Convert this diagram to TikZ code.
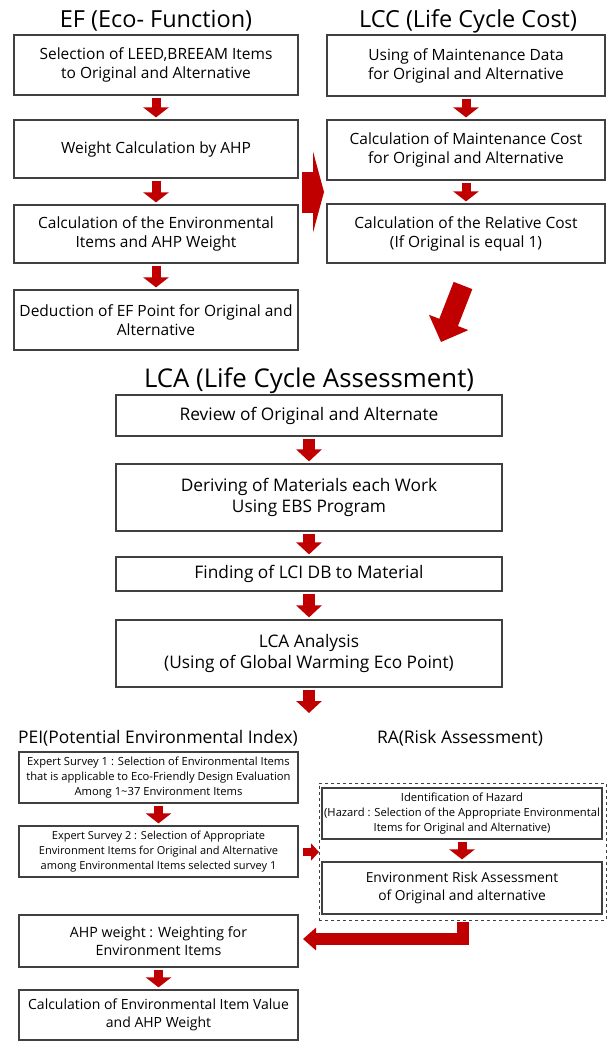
\documentclass[tikz,border=0pt]{standalone}
\usepackage{fontspec}
\setmainfont{Open Sans}
\usetikzlibrary{arrows.meta}
\definecolor{arrred}{RGB}{192,0,0}
\definecolor{boxline}{RGB}{64,64,64}
\tikzset{
  box/.style={draw=boxline, line width=1.2pt, rectangle, inner sep=0pt, align=center},
  efbox/.style={box, minimum width=284pt, font=\fontsize{15.5}{19}\selectfont},
  lccbox/.style={box, minimum width=278pt, font=\fontsize{15.5}{19}\selectfont},
  lcabox/.style={box, minimum width=386pt, font=\fontsize{17.3}{21.5}\selectfont},
  peibox/.style={box, minimum width=279pt},
  rabox/.style={box, minimum width=280pt},
  bigtitle/.style={anchor=base, font=\fontsize{23.5}{28}\selectfont},
  midtitle/.style={anchor=base, font=\fontsize{17.4}{22}\selectfont},
  downarr/.style={line width=9pt, arrred, -{Triangle[width=25pt,length=10pt]}, shorten <=2pt, shorten >=2pt},
  lcaarr/.style={line width=12pt, arrred, -{Triangle[width=25pt,length=12pt]}, shorten <=2pt, shorten >=2pt},
}
\begin{document}
\begin{tikzpicture}[x=1pt,y=-1pt]
\useasboundingbox (0,0) rectangle (607,1042);
% titles
\node[bigtitle] (eft) at (156,27) {EF (Eco- Function)};
\node[bigtitle] (lcct) at (468,27) {LCC (Life Cycle Cost)};
\node[bigtitle, font=\fontsize{25.8}{30}\selectfont] (lcat) at (309,387) {LCA (Life Cycle Assessment)};
\node[midtitle] (peit) at (158,743) {PEI(Potential Environmental Index)};
\node[midtitle] (rat) at (460,743) {RA(Risk Assessment)};
% EF column
\node[efbox, minimum height=60pt] (b1) at (156,65) {Selection of LEED,BREEAM Items\\to Original and Alternative};
\node[efbox, minimum height=58pt] (b2) at (156,149) {Weight Calculation by AHP};
\node[efbox, minimum height=58pt] (b3) at (156,234) {Calculation of the Environmental\\Items and AHP Weight};
\node[efbox, minimum height=60pt] (b4) at (156,320) {Deduction of EF Point for Original and\\Alternative};
% LCC column
\node[lccbox, minimum height=61pt] (c1) at (466,65.5) {Using of Maintenance Data\\for Original and Alternative};
\node[lccbox, minimum height=60pt] (c2) at (466,150) {Calculation of Maintenance Cost\\for Original and Alternative};
\node[lccbox, minimum height=59pt] (c3) at (466,233.5) {Calculation of the Relative Cost\\(If Original is equal 1)};
% LCA column
\node[lcabox, minimum height=41pt] (l1) at (309,415.5) {Review of Original and Alternate};
\node[lcabox, minimum height=67pt] (l2) at (309,497.5) {Deriving of Materials each Work\\Using EBS Program};
\node[lcabox, minimum height=34pt] (l3) at (309,574) {Finding of LCI DB to Material};
\node[lcabox, minimum height=67pt] (l4) at (309,653.5) {LCA Analysis\\(Using of Global Warming Eco Point)};
\coordinate (lcaend) at (309,715);
% PEI column
\node[peibox, minimum height=51pt, font=\fontsize{11.2}{15}\selectfont] (p1) at (158.5,777.5) {Expert Survey 1 : Selection of Environmental Items\\that is applicable to Eco-Friendly Design Evaluation\\Among 1\textasciitilde37 Environment Items};
\node[peibox, minimum height=51pt, font=\fontsize{11}{15}\selectfont] (p2) at (158.5,851.5) {Expert Survey 2 : Selection of Appropriate\\Environment Items for Original and Alternative\\among Environmental Items selected survey 1};
\node[peibox, minimum height=52pt, font=\fontsize{14.2}{18}\selectfont] (p3) at (158.5,941) {AHP weight : Weighting for\\Environment Items};
\node[peibox, minimum height=50pt, font=\fontsize{14}{18}\selectfont] (p4) at (158.5,1015) {Calculation of Environmental Item Value\\and AHP Weight};
% RA column
\node[draw=boxline, dashed, line width=1pt, minimum width=287pt, minimum height=137pt, inner sep=0pt] (ra) at (462.5,851.5) {};
\node[rabox, minimum height=51pt, font=\fontsize{11.2}{15}\selectfont] (r1) at (462,813.5) {Identification of Hazard\\(Hazard : Selection of the Appropriate Environmental\\Items for Original and Alternative)};
\node[rabox, minimum height=52pt, font=\fontsize{13.8}{18}\selectfont] (r2) at (462,888) {Environment Risk Assessment\\of Original and alternative};
% helper coordinates
\coordinate (efs) at (302,192);
\coordinate (lcce) at (324,192);
\coordinate (peis) at (303,852);
\coordinate (rae) at (319,852);
\coordinate (ras) at (462.5,922);
\coordinate (rac) at (462.5,939);
\coordinate (pe3) at (303,939);
\coordinate (diag1) at (463,285.5);
\coordinate (diag2) at (441,342);
% arrows EF
\draw[downarr] (b1.south) -- (b2.north);
\draw[downarr] (b2.south) -- (b3.north);
\draw[downarr] (b3.south) -- (b4.north);
% arrows LCC
\draw[downarr] (c1.south) -- (c2.north);
\draw[downarr] (c2.south) -- (c3.north);
% EF -> LCC
\draw[arrred, line width=41pt, -{Triangle[width=81pt,length=11pt]}] (efs) -- (lcce);
% LCC -> LCA diagonal
\draw[arrred, line width=20pt, -{Triangle[width=41pt,length=21pt]}] (diag1) -- (diag2);
% LCA arrows
\draw[lcaarr] (l1.south) -- (l2.north);
\draw[lcaarr] (l2.south) -- (l3.north);
\draw[lcaarr] (l3.south) -- (l4.north);
\draw[lcaarr] (l4.south) -- (lcaend);
% PEI arrows
\draw[downarr] (p1.south) -- (p2.north);
\draw[downarr] (p3.south) -- (p4.north);
% RA arrow
\draw[downarr] (r1.south) -- (r2.north);
% PEI -> RA
\draw[arrred, line width=8pt, -{Triangle[width=17pt,length=8pt]}] (peis) -- (rae);
% RA -> PEI box3 (L shaped)
\draw[arrred, line width=12pt, line join=miter, -{Triangle[width=22pt,length=13pt]}] (ras) -- (rac) -- (pe3);
\end{tikzpicture}
\end{document}
